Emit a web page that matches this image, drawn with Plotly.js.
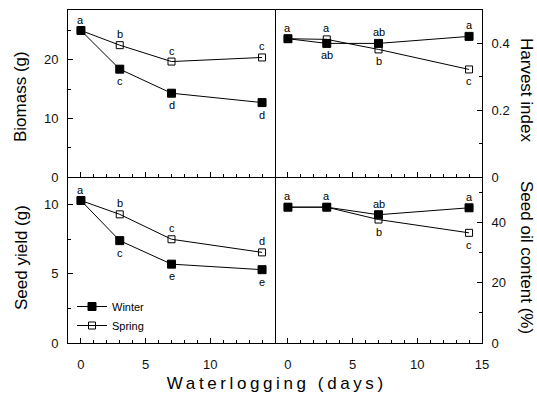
<!DOCTYPE html>
<html>
<head>
<meta charset="utf-8">
<script src="https://cdn.plot.ly/plotly-3.0.1.min.js"></script>
<style>
html,body{margin:0;padding:0;background:#fff;}
#plot{width:537px;height:397px;}
.xspaced{letter-spacing:3.6px;}
</style>
</head>
<body>
<div id="plot"></div>
<script>
// ---- data ----
const days = [0, 3, 7, 14];
const biomassWinter = [25.0, 18.4, 14.3, 12.7];
const biomassSpring = [25.0, 22.5, 19.7, 20.4];
const harvestWinter = [0.414, 0.400, 0.400, 0.421];
const harvestSpring = [0.414, 0.412, 0.382, 0.322];
const seedYieldWinter = [10.3, 7.4, 5.7, 5.3];
const seedYieldSpring = [10.3, 9.3, 7.5, 6.55];
const oilWinter = [45.0, 45.0, 42.5, 44.8];
const oilSpring = [45.0, 45.0, 40.9, 36.5];

const biomassWinterLetters = ['a', 'c', 'd', 'd'];
const biomassSpringLetters = ['', 'b', 'c', 'c'];
const harvestWinterLetters = ['a', 'ab', 'ab', 'a'];
const harvestSpringLetters = ['', 'a', 'b', 'c'];
const seedYieldWinterLetters = ['a', 'c', 'e', 'e'];
const seedYieldSpringLetters = ['', 'b', 'c', 'd'];
const oilWinterLetters = ['a', 'a', 'ab', 'a'];
const oilSpringLetters = ['', '', 'b', 'c'];

const seriesNames = ['Winter', 'Spring'];
const xTicksLeft = [0, 5, 10];
const xTicksRight = [0, 5, 10, 15];
const yTitles = ['Biomass (g)', 'Harvest index', 'Seed yield (g)', 'Seed oil content (%)'];
const xTitle = 'Waterlogging (days)';

// ---- layout helpers ----
const W = 537, H = 397;
const px = v => v / W;
const py = v => 1 - v / H;
const domL = [px(68), px(275)];
const domR = [px(275), px(482)];
const domT = [py(177), py(10)];
const domB = [py(343), py(177)];

const FONT = 'Liberation Sans, Arial, Helvetica, sans-serif';

const panels = [
  {xa: 'x',  ya: 'y',  w: biomassWinter,   s: biomassSpring,   wl: biomassWinterLetters,   sl: biomassSpringLetters},
  {xa: 'x2', ya: 'y2', w: harvestWinter,   s: harvestSpring,   wl: harvestWinterLetters,   sl: harvestSpringLetters},
  {xa: 'x3', ya: 'y3', w: seedYieldWinter, s: seedYieldSpring, wl: seedYieldWinterLetters, sl: seedYieldSpringLetters},
  {xa: 'x4', ya: 'y4', w: oilWinter,       s: oilSpring,       wl: oilWinterLetters,       sl: oilSpringLetters}
];

const traces = [];
const annotations = [];
panels.forEach((p, i) => {
  traces.push({
    x: days, y: p.w, xaxis: p.xa, yaxis: p.ya, type: 'scatter', mode: 'lines+markers',
    name: seriesNames[0], showlegend: i === 2, legendrank: 1,
    line: {color: '#000', width: 1},
    marker: {symbol: 'square', size: 8, color: '#000', line: {color: '#000', width: 1}}
  });
  traces.push({
    x: days, y: p.s, xaxis: p.xa, yaxis: p.ya, type: 'scatter', mode: 'lines+markers',
    name: seriesNames[1], showlegend: i === 2, legendrank: 2,
    line: {color: '#000', width: 1},
    marker: {symbol: 'square-open', size: 7, color: '#000', line: {color: '#000', width: 1}}
  });
  days.forEach((d, k) => {
    const winterAbove = p.w[k] >= p.s[k];
    const add = (txt, yv, above) => {
      if (!txt) return;
      annotations.push({
        x: d, y: yv, xref: p.xa, yref: p.ya, text: txt, showarrow: false,
        xanchor: 'center', yanchor: 'middle',
        yshift: above ? 11 : -12, font: {family: FONT, size: 11, color: '#000'}
      });
    };
    add(p.wl[k], p.w[k], winterAbove);
    add(p.sl[k], p.s[k], !winterAbove);
  });
});

// axis titles as annotations
const titleFont = {family: FONT, size: 17, color: '#000'};
const addTitle = (x, y, text, angle) => annotations.push({
  xref: 'paper', yref: 'paper', x: px(x), y: py(y), xanchor: 'center', yanchor: 'middle',
  text: text, textangle: angle, showarrow: false, font: titleFont
});
addTitle(20, 97, yTitles[0], -90);
addTitle(527, 90, yTitles[1], 90);
addTitle(21, 258, yTitles[2], -90);
addTitle(527, 257, yTitles[3], 90);
addTitle(277, 383, xTitle, 0);

const baseAxis = {
  showline: true, mirror: true, linecolor: '#000', linewidth: 1,
  ticks: 'inside', ticklen: 5, tickwidth: 1, tickcolor: '#000',
  showgrid: false, zeroline: false,
  tickfont: {family: FONT, size: 13, color: '#111'},
  fixedrange: true
};
const xAxis = (dom, anchor, labels, vals, mirror) => Object.assign({}, baseAxis, {
  domain: dom, anchor: anchor, range: [-1, 15], mirror: mirror,
  tickmode: 'array', tickvals: vals, showticklabels: labels, ticklabelstandoff: 9,
  minor: {ticks: 'inside', ticklen: 3, tickwidth: 1, tickcolor: '#000', dtick: 1, tick0: 0}
});
const yAxis = (dom, anchor, side, range, dtick, mdt, mirror) => Object.assign({}, baseAxis, {
  domain: dom, anchor: anchor, side: side, range: range, dtick: dtick, tick0: 0, mirror: mirror,
  ticklabelstandoff: 6,
  minor: {ticks: 'inside', ticklen: 3, tickwidth: 1, tickcolor: '#000', dtick: mdt, tick0: 0}
});

const layout = {
  width: W, height: H,
  margin: {l: 0, r: 0, t: 0, b: 0},
  paper_bgcolor: '#fff', plot_bgcolor: '#fff',
  showlegend: true,
  legend: {
    x: px(72), y: py(292), xanchor: 'left', yanchor: 'top',
    bgcolor: 'rgba(0,0,0,0)', font: {family: FONT, size: 11, color: '#000'},
    itemwidth: 30, tracegroupgap: 0
  },
  xaxis:  xAxis(domL, 'y', false, xTicksLeft, true),
  yaxis:  yAxis(domT, 'x', 'left', [0, 28.5], 10, 5, true),
  xaxis2: xAxis(domR, 'y2', false, xTicksRight, true),
  yaxis2: yAxis(domT, 'x2', 'right', [0, 0.5], 0.2, 0.1, false),
  xaxis3: xAxis(domL, 'y3', true, xTicksLeft, false),
  yaxis3: yAxis(domB, 'x3', 'left', [0, 12], 5, 2.5, true),
  xaxis4: xAxis(domR, 'y4', true, xTicksRight, false),
  yaxis4: yAxis(domB, 'x4', 'right', [0, 55], 20, 10, false),
  annotations: annotations
};

Plotly.newPlot('plot', traces, layout, {staticPlot: true, displayModeBar: false}).then(() => {
  const texts = document.querySelectorAll('.annotation-text');
  texts.forEach(t => { if (t.textContent === xTitle) t.classList.add('xspaced'); });
});
</script>
</body>
</html>
